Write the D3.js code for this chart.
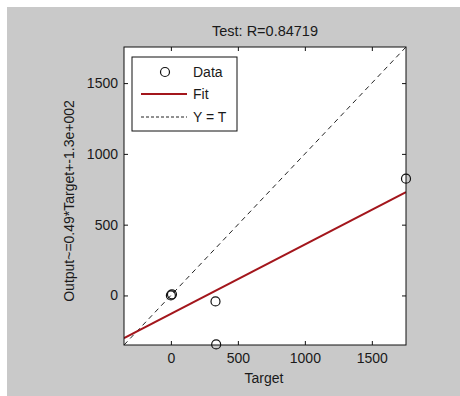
<!DOCTYPE html>
<html>
<head>
<meta charset="utf-8">
<script src="https://cdn.jsdelivr.net/npm/d3@7"></script>
<style>
  html, body { margin: 0; padding: 0; background: #fff; }
  text { font-family: "Liberation Sans", Arial, sans-serif; fill: #1a1a1a; }
</style>
</head>
<body>
<div id="chart"></div>
<script>
// values
var targets = [0, 8, 333, 338, 1755];
var outputs = [0, 8, -42, -346, 825];
var fitSlope = 0.49;
var fitIntercept = -130;
var axisLimits = [-350, 1755];
var tickValues = [0, 500, 1000, 1500];
var titleText = 'Test: R=0.84719';
var xLabel = 'Target';
var yLabel = 'Output~=0.49*Target+-1.3e+002';
var legendLabels = ['Data', 'Fit', 'Y = T'];

var width = 460, height = 396;
var box = {left: 124, top: 47, right: 406, bottom: 345};

var svg = d3.select('#chart').append('svg').attr('width', width).attr('height', height);

// grey figure background, thin white strip top and left
svg.append('rect').attr('x', 7).attr('y', 7).attr('width', width - 7).attr('height', height - 7).attr('fill', '#c9c9c9');

var x = d3.scaleLinear().domain(axisLimits).range([box.left, box.right]);
var y = d3.scaleLinear().domain(axisLimits).range([box.bottom, box.top]);

svg.append('rect')
  .attr('x', box.left).attr('y', box.top)
  .attr('width', box.right - box.left).attr('height', box.bottom - box.top)
  .attr('fill', '#fff');

var plot = svg.append('g');
svg.append('clipPath').attr('id', 'clip').append('rect')
  .attr('x', box.left).attr('y', box.top)
  .attr('width', box.right - box.left).attr('height', box.bottom - box.top);

// Y = T
plot.append('line')
  .attr('clip-path', 'url(#clip)')
  .attr('x1', x(axisLimits[0])).attr('y1', y(axisLimits[0]))
  .attr('x2', x(axisLimits[1])).attr('y2', y(axisLimits[1]))
  .attr('stroke', '#222').attr('stroke-width', 1).attr('stroke-dasharray', '5,4');

// fit
plot.append('line')
  .attr('clip-path', 'url(#clip)')
  .attr('x1', x(axisLimits[0])).attr('y1', y(fitSlope * axisLimits[0] + fitIntercept))
  .attr('x2', x(axisLimits[1])).attr('y2', y(fitSlope * axisLimits[1] + fitIntercept))
  .attr('stroke', '#a3161c').attr('stroke-width', 2.2);

// data
plot.selectAll('circle.pt')
  .data(targets)
  .enter()
  .append('circle')
  .attr('class', 'pt')
  .attr('cx', function(d) { return x(d); })
  .attr('cy', function(d, i) { return y(outputs[i]); })
  .attr('r', 4.5)
  .attr('fill', 'none')
  .attr('stroke', '#111')
  .attr('stroke-width', 1.2);

function styleAxis(g) {
  g.select('.domain').remove();
  g.selectAll('line').attr('stroke', '#111');
  g.selectAll('text').attr('font-size', '14px').attr('fill', '#1a1a1a')
    .style('font-family', '"Liberation Sans", Arial, sans-serif');
}

var fmt = d3.format('d');
svg.append('g').attr('transform', 'translate(0,' + box.bottom + ')')
  .call(d3.axisBottom(x).tickValues(tickValues).tickFormat(fmt).tickSize(-4).tickPadding(8)).call(styleAxis);
svg.append('g').attr('transform', 'translate(0,' + box.top + ')')
  .call(d3.axisTop(x).tickValues(tickValues).tickSize(-4).tickFormat('')).call(styleAxis);
svg.append('g').attr('transform', 'translate(' + box.left + ',0)')
  .call(d3.axisLeft(y).tickValues(tickValues).tickFormat(fmt).tickSize(-4).tickPadding(6)).call(styleAxis);
svg.append('g').attr('transform', 'translate(' + box.right + ',0)')
  .call(d3.axisRight(y).tickValues(tickValues).tickSize(-4).tickFormat('')).call(styleAxis);

svg.append('rect')
  .attr('x', box.left).attr('y', box.top)
  .attr('width', box.right - box.left).attr('height', box.bottom - box.top)
  .attr('fill', 'none').attr('stroke', '#111').attr('stroke-width', 1);

// labels
svg.append('text').attr('x', (box.left + box.right) / 2).attr('y', 36)
  .attr('text-anchor', 'middle').attr('font-size', '14.5px').text(titleText);
svg.append('text').attr('x', 264).attr('y', 383)
  .attr('text-anchor', 'middle').attr('font-size', '14px').text(xLabel);
svg.append('text').attr('transform', 'translate(74,201) rotate(-90)')
  .attr('text-anchor', 'middle').attr('font-size', '14px').text(yLabel);

// legend
var leg = svg.append('g');
leg.append('rect').attr('x', 132).attr('y', 57).attr('width', 105).attr('height', 74)
  .attr('fill', '#fff').attr('stroke', '#111').attr('stroke-width', 1);
var legY = [72, 94, 117];
leg.append('circle').attr('cx', 165).attr('cy', legY[0]).attr('r', 4.5)
  .attr('fill', 'none').attr('stroke', '#111').attr('stroke-width', 1.2);
leg.append('line').attr('x1', 141).attr('x2', 187).attr('y1', legY[1]).attr('y2', legY[1])
  .attr('stroke', '#a3161c').attr('stroke-width', 2.2);
leg.append('line').attr('x1', 141).attr('x2', 187).attr('y1', legY[2]).attr('y2', legY[2])
  .attr('stroke', '#222').attr('stroke-width', 1).attr('stroke-dasharray', '3,2');
leg.selectAll('text.lg')
  .data(legendLabels)
  .enter()
  .append('text')
  .attr('class', 'lg')
  .attr('x', 193)
  .attr('y', function(d, i) { return legY[i]; })
  .attr('dy', '0.36em')
  .attr('font-size', '14px')
  .text(function(d) { return d; });
</script>
</body>
</html>
